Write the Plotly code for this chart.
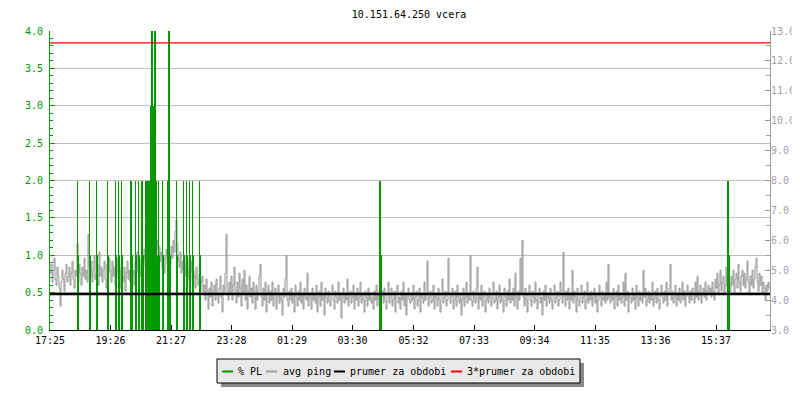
import plotly.graph_objects as go

# ---------------- data ----------------
title_text = "10.151.64.250 vcera"
x_tick_labels = ["17:25", "19:26", "21:27", "23:28", "01:29", "03:30",
                 "05:32", "07:33", "09:34", "11:35", "13:36", "15:37"]
start_label = "17:25"
period_minutes = 1440
sample_minutes = 2

# avg ping (ms), one sample every 2 minutes starting 17:25
ping_ms = [
    4.9, 5.2, 4.6, 5.0, 5.4, 4.7, 4.5, 5.1, 4.8, 4.4, 3.8, 4.6, 5.0, 4.7, 4.3, 4.9, 5.2, 4.6, 4.8, 5.1,
    4.5, 4.9, 5.3, 4.7, 4.4, 5.0, 4.8, 5.9, 4.6, 5.2, 4.9, 4.5, 5.1, 4.8, 5.4, 4.7, 5.0, 4.6, 6.2, 5.1,
    4.8, 5.3, 4.6, 5.0, 5.5, 4.7, 4.9, 5.2, 4.5, 5.6, 4.8, 5.1, 4.6, 5.0, 5.3, 4.7, 4.4, 5.2, 4.9, 5.4,
    5.0, 4.6, 5.3, 4.8, 5.1, 4.5, 4.9, 5.4, 4.7, 5.0, 4.4, 5.2, 4.8, 4.6, 5.1, 4.3, 4.9, 5.3, 4.7, 5.0,
    4.6, 5.2, 4.8, 5.0, 4.5, 5.3, 4.9, 5.6, 5.0, 5.4, 4.8, 5.2, 5.5, 5.1, 5.7, 5.3, 5.9, 5.4, 6.0, 5.6,
    6.1, 5.8, 6.8, 6.2, 5.9, 6.4, 5.7, 6.0, 5.5, 5.8, 5.3, 5.6, 5.1, 5.5, 4.9, 5.4, 5.7, 5.2, 5.0, 5.5,
    5.2, 5.8, 5.4, 6.0, 5.6, 6.3, 6.7, 5.9, 5.4, 5.1, 5.6, 4.9, 5.3, 5.0, 5.5, 4.8, 5.2, 5.4, 4.7, 5.1,
    4.9, 5.3, 4.6, 5.0, 4.8, 4.4, 5.1, 4.7, 4.5, 4.9, 4.3, 4.6, 4.8, 4.2, 4.5, 4.0, 4.7, 4.3, 3.7, 4.4,
    4.1, 4.6, 3.8, 4.3, 4.5, 4.0, 4.7, 4.2, 3.9, 4.4, 4.8, 4.1, 3.6, 4.5, 4.2, 4.9, 6.2, 4.3, 4.0, 4.6,
    4.2, 4.8, 4.0, 4.5, 5.1, 4.3, 3.9, 4.6, 4.1, 4.9, 4.4, 3.8, 4.7, 4.2, 5.0, 4.0, 4.5, 3.7, 4.3, 4.8,
    4.1, 4.4, 3.9, 4.6, 4.2, 3.7, 4.5, 4.0, 4.3, 4.8, 5.2, 4.1, 3.8, 4.4, 4.0, 4.6, 3.6, 4.2, 4.5, 3.9,
    4.3, 4.0, 4.6, 3.8, 4.2, 4.4, 3.7, 4.1, 4.5, 3.9, 4.2, 4.0, 3.5, 4.4, 4.1, 4.7, 5.5, 4.0, 3.8, 4.3,
    4.0, 4.4, 3.9, 4.2, 3.6, 4.5, 4.1, 3.8, 4.3, 4.0, 4.6, 3.9, 4.2, 3.7, 4.4, 4.1, 4.0, 4.9, 3.8, 4.2,
    4.1, 3.7, 4.4, 4.0, 4.2, 3.9, 4.5, 3.6, 4.1, 4.3, 3.8, 4.6, 4.0, 4.2, 3.5, 4.4, 4.1, 3.9, 4.3, 4.0,
    3.8, 4.2, 4.5, 4.0, 3.7, 4.3, 4.1, 3.9, 4.6, 4.0, 4.2, 3.4, 4.1, 4.4, 3.9, 4.2, 4.0, 4.7, 3.8, 4.1,
    4.3, 3.9, 4.1, 4.5, 3.7, 4.2, 4.0, 4.4, 3.8, 4.1, 4.6, 3.9, 4.2, 4.0, 3.6, 4.3, 4.1, 3.8, 4.4, 4.0,
    4.2, 3.9, 4.1, 3.7, 4.3, 4.0, 4.5, 3.8, 4.2, 4.0, 3.6, 4.1, 4.3, 3.9, 4.4, 4.0, 3.7, 4.2, 4.6, 3.9,
    4.1, 4.4, 3.8, 4.0, 4.3, 3.6, 4.2, 4.5, 3.9, 4.1, 3.7, 4.3, 4.0, 4.6, 3.8, 4.2, 3.5, 4.1, 4.4, 4.0,
    3.9, 4.2, 4.0, 4.5, 3.7, 4.1, 4.3, 3.8, 4.0, 4.4, 3.6, 4.2, 4.1, 3.9, 4.6, 4.0, 4.2, 5.3, 3.8, 4.1,
    4.3, 3.9, 4.0, 4.5, 3.7, 4.2, 4.1, 3.8, 4.4, 4.0, 3.6, 4.2, 4.7, 3.9, 4.1, 4.3, 3.8, 4.0, 5.4, 4.2,
    3.9, 4.1, 4.4, 3.7, 4.0, 4.3, 3.8, 4.5, 4.1, 3.9, 4.2, 3.5, 4.0, 4.4, 3.8, 4.1, 4.6, 3.9, 4.2, 4.0,
    5.5, 4.0, 3.8, 4.3, 4.1, 3.9, 4.4, 5.1, 3.7, 4.2, 4.0, 4.5, 3.8, 4.1, 4.3, 3.6, 4.0, 4.2, 3.9, 4.4,
    4.1, 3.8, 4.2, 4.6, 3.9, 4.0, 4.3, 3.7, 4.1, 4.5, 3.9, 4.2, 4.0, 3.6, 4.4, 4.1, 3.8, 4.3, 4.0, 4.7,
    3.9, 4.2, 4.0, 4.4, 3.8, 4.9, 4.1, 3.7, 4.3, 4.0, 5.4, 4.2, 6.0, 4.1, 3.8, 4.4, 4.0, 3.6, 4.2, 4.5,
    4.0, 3.8, 4.3, 4.1, 3.9, 4.6, 4.0, 3.7, 4.2, 4.4, 3.9, 4.1, 3.5, 4.3, 4.0, 4.5, 3.8, 4.2, 4.1, 3.9,
    4.4, 4.0, 3.7, 4.2, 4.5, 3.9, 4.1, 4.3, 3.8, 4.0, 4.6, 4.2, 3.9, 5.6, 4.1, 3.8, 4.3, 4.0, 4.4, 3.7,
    4.2, 4.0, 5.0, 3.9, 4.3, 4.1, 3.6, 4.4, 4.0, 3.8, 4.2, 4.5, 3.9, 4.1, 4.3, 3.7, 4.0, 4.6, 3.9, 4.2,
    4.0, 4.3, 3.8, 4.1, 4.4, 3.9, 4.2, 3.6, 4.0, 4.5, 4.1, 3.8, 4.3, 4.0, 4.2, 3.9, 4.6, 4.0, 5.2, 4.1,
    3.9, 4.2, 4.0, 4.4, 3.7, 4.1, 4.3, 3.8, 4.5, 4.0, 4.2, 3.9, 4.1, 4.6, 3.8, 4.9, 4.0, 4.3, 3.6, 4.2,
    4.1, 3.9, 4.4, 4.0, 4.2, 3.7, 4.5, 4.1, 3.8, 4.3, 4.0, 4.2, 3.9, 5.0, 4.1, 4.4, 3.8, 4.0, 4.3, 3.9,
    4.2, 4.0, 4.6, 3.8, 4.1, 4.3, 3.9, 4.4, 4.0, 3.7, 4.2, 4.5, 4.1, 3.9, 4.3, 4.0, 4.6, 3.8, 4.2, 4.4,
    5.2, 4.0, 4.3, 3.9, 4.1, 4.5, 3.8, 4.2, 4.0, 4.4, 3.9, 4.1, 4.6, 4.0, 4.3, 3.8, 4.2, 4.5, 4.1, 3.9,
    4.3, 4.0, 4.4, 4.2, 3.9, 4.6, 4.1, 4.8, 4.0, 4.3, 4.5, 3.9, 4.2, 4.4, 4.1, 4.6, 4.0, 4.3, 4.5, 4.2,
    4.4, 4.1, 4.6, 4.3, 4.0, 4.7, 4.4, 4.9, 4.2, 4.5, 5.0, 4.3, 4.6, 4.8, 4.2, 4.5, 5.1, 4.4, 4.0, 4.6,
    4.3, 4.8, 4.5, 5.0, 4.2, 4.7, 4.9, 4.4, 5.2, 4.6, 4.3, 4.8, 5.0, 4.5, 4.9, 4.4, 4.7, 5.3, 4.6, 4.2,
    4.8, 4.5, 5.0, 4.4, 4.7, 5.1, 5.4, 4.6, 4.3, 4.9, 4.5, 4.8, 4.2, 4.6, 4.4, 4.0, 4.5, 4.3, 4.6, 4.4,
]

# packet loss events: minutes after 17:25 and % PL
pl_minutes = [55, 57, 79, 81, 93, 95, 115, 117, 131, 133, 137, 139, 143, 145,
              161, 163, 165, 171, 173, 177, 179, 183, 185, 187,
              192, 194, 196, 198, 200, 202, 204, 206, 208, 210, 212, 214,
              217, 219, 225, 227, 236, 238, 240, 253, 255, 267, 269,
              273, 275, 279, 281, 285, 287, 299, 301, 660, 662, 1356, 1358]
pl_percent = [2.0, 1.0, 2.0, 1.0, 2.0, 1.0, 2.0, 1.0, 2.0, 1.0, 2.0, 1.0, 2.0, 1.0,
              2.0, 2.0, 1.0, 2.0, 1.0, 2.0, 1.0, 2.0, 2.0, 1.0,
              2.0, 2.0, 2.0, 2.0, 2.0, 3.0, 5.0, 3.0, 2.0, 5.0, 2.0, 1.0,
              2.0, 1.0, 2.0, 1.0, 2.0, 5.0, 1.0, 2.0, 1.0, 2.0, 1.0,
              2.0, 1.0, 2.0, 1.0, 2.0, 1.0, 2.0, 1.0, 2.0, 1.0, 2.0, 1.0]

prumer_ms = 4.2
three_prumer_ms = 3 * prumer_ms

legend_labels = ["% PL", "avg ping", "prumer za obdobi", "3*prumer za obdobi"]

# ---------------- styles ----------------
FONT = "DejaVu Sans Mono"
GREEN = "#009a00"
GREY = "#939393"
BLACK = "#000000"
RED = "#ff0000"
legend_colors = [GREEN, "#a0a0a0", BLACK, RED]

PAGE_OFF = 8                      # default body margin of the html page
W = 800 - PAGE_OFF                # right margin of body does not scroll
H = 400 - 2 * PAGE_OFF            # keep page height <= window (no scrollbar)
# plot area in page pixels: x 50..770, y 31..330
ML, MT = 50 - PAGE_OFF, 31 - PAGE_OFF
MR, MB = W - (770 - PAGE_OFF), H - (330 - PAGE_OFF)
PW, PH = 720, 299


def px_x(px):
    return (px - 50) / PW


def px_y(py):
    return (330 - py) / PH


def label_to_minutes(lbl):
    h, m = map(int, lbl.split(":"))
    sh, sm = map(int, start_label.split(":"))
    return ((h * 60 + m) - (sh * 60 + sm)) % 1440


tick_vals = [label_to_minutes(l) for l in x_tick_labels]
ping_minutes = [i * sample_minutes for i in range(len(ping_ms))]
ping_x = ping_minutes + [period_minutes]
ping_y = ping_ms + [ping_ms[-1]]

fig = go.Figure()

fig.add_trace(go.Scatter(x=ping_x, y=ping_y, mode="lines", yaxis="y",
                         line=dict(color=GREY, width=1, shape="hv"),
                         name=legend_labels[1], showlegend=False,
                         hoverinfo="skip"))

fig.add_trace(go.Bar(x=pl_minutes, y=pl_percent, yaxis="y2", width=2,
                     marker=dict(color=GREEN, line=dict(width=0)),
                     name=legend_labels[0], showlegend=False,
                     hoverinfo="skip"))

fig.add_trace(go.Scatter(x=[0, period_minutes], y=[prumer_ms, prumer_ms],
                         yaxis="y3", mode="lines",
                         line=dict(color=BLACK, width=2.5),
                         name=legend_labels[2], showlegend=False,
                         hoverinfo="skip"))

fig.add_trace(go.Scatter(x=[0, period_minutes],
                         y=[three_prumer_ms, three_prumer_ms],
                         yaxis="y3", mode="lines",
                         line=dict(color=RED, width=1.2),
                         name=legend_labels[3], showlegend=False,
                         hoverinfo="skip"))

fig.update_layout(
    width=W, height=H,
    margin=dict(l=ML, r=MR, t=MT, b=MB, autoexpand=False),
    paper_bgcolor="white", plot_bgcolor="white",
    font=dict(family=FONT, size=10, color=BLACK),
    showlegend=False,
    bargap=0,
    title=dict(text=title_text, x=px_x(409), xref="paper", xanchor="center",
               y=1 - (14 - PAGE_OFF) / H, yref="container", yanchor="middle",
               font=dict(family=FONT, size=10, color=BLACK)),
    xaxis=dict(range=[0, period_minutes], tickmode="array",
               tickvals=tick_vals, ticktext=x_tick_labels,
               ticks="inside", ticklen=5, tickcolor=BLACK, tickwidth=1,
               showline=True, linecolor=BLACK, linewidth=1,
               showgrid=False, zeroline=False, ticklabelstandoff=1,
               tickfont=dict(family=FONT, size=10, color=BLACK)),
    yaxis=dict(side="right", range=[3, 13], tickmode="linear", tick0=3,
               dtick=1, tickformat=".1f", ticks="inside", ticklen=5,
               tickcolor=GREY, showline=True, linecolor="#a0a0a0",
               linewidth=1, showgrid=False, zeroline=False,
               ticklabelstandoff=-2,
               minor=dict(dtick=0.5, ticks="inside", ticklen=4,
                          tickcolor="#a0a0a0", showgrid=False),
               tickfont=dict(family=FONT, size=10, color="#a0a0a0")),
    yaxis2=dict(side="left", overlaying="y", range=[0, 4],
                tickmode="linear", tick0=0, dtick=0.5, tickformat=".1f",
                ticks="inside", ticklen=5, tickcolor=GREEN,
                showline=True, linecolor=GREEN, linewidth=1,
                showgrid=True, gridcolor="#c0c0c0", gridwidth=1,
                zeroline=False, ticklabelstandoff=4,
                minor=dict(dtick=0.1, ticks="inside", ticklen=3,
                           tickcolor=GREEN, showgrid=False),
                tickfont=dict(family=FONT, size=10, color=GREEN)),
    yaxis3=dict(overlaying="y", range=[3, 13], visible=False),
)

# ---------------- manual legend ----------------
shapes = []
annotations = []
box_l, box_r, box_t, box_b = 217, 580, 359, 383
shadow = 4
shapes.append(dict(type="rect", xref="paper", yref="paper",
                   x0=px_x(box_l + shadow), x1=px_x(box_r + shadow),
                   y0=px_y(box_b + shadow), y1=px_y(box_t + shadow),
                   fillcolor="#8a8a8a", line=dict(width=0), layer="above"))
shapes.append(dict(type="rect", xref="paper", yref="paper",
                   x0=px_x(box_l), x1=px_x(box_r),
                   y0=px_y(box_b), y1=px_y(box_t),
                   fillcolor="#e8e8e8", line=dict(color=BLACK, width=1),
                   layer="above"))
line_starts = [222, 266, 334, 451]
text_starts = [236, 281, 348, 465]
leg_y = 371.5
for lbl, col, xs, xt in zip(legend_labels, legend_colors, line_starts,
                            text_starts):
    shapes.append(dict(type="line", xref="paper", yref="paper",
                       x0=px_x(xs), x1=px_x(xs + 11),
                       y0=px_y(leg_y), y1=px_y(leg_y),
                       line=dict(color=col, width=2), layer="above"))
    annotations.append(dict(text=lbl, xref="paper", yref="paper",
                            x=px_x(xt), y=px_y(leg_y),
                            xanchor="left", yanchor="middle",
                            showarrow=False,
                            font=dict(family=FONT, size=10, color=BLACK)))

fig.update_layout(shapes=shapes, annotations=annotations)

fig.write_html("out.html", config={"displayModeBar": False})
